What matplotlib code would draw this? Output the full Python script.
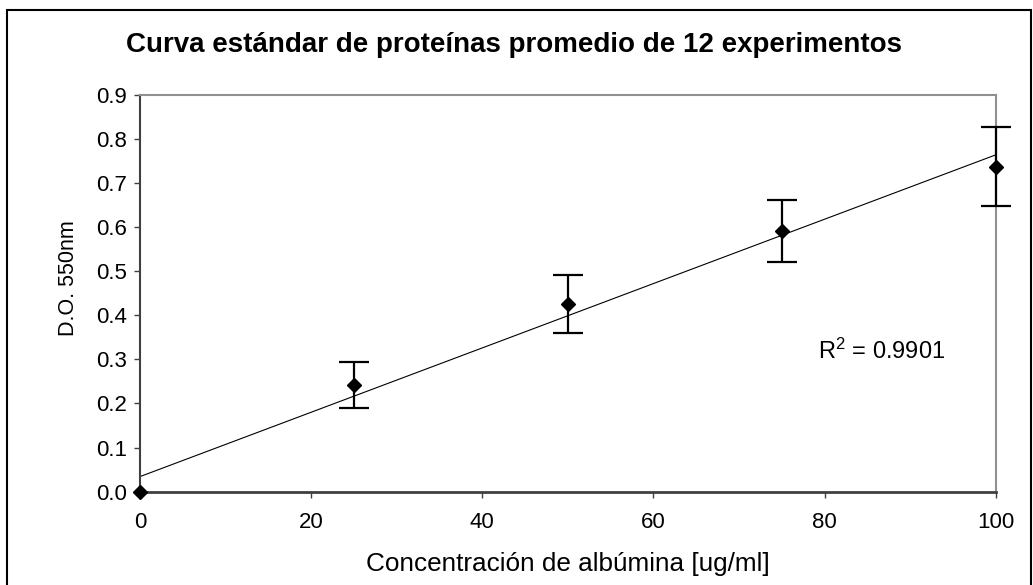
import matplotlib.pyplot as plt
from matplotlib.patches import Rectangle
import numpy as np

plt.rcParams['font.family'] = ['Liberation Sans', 'DejaVu Sans']
plt.rcParams['mathtext.fontset'] = 'custom'
plt.rcParams['mathtext.rm'] = 'Liberation Sans'
plt.rcParams['mathtext.it'] = 'Liberation Sans'

# datos
concentracion = [0, 25, 50, 75, 100]
do_550 = [0.0, 0.241, 0.426, 0.591, 0.737]
err_inf = [0.0, 0.051, 0.067, 0.071, 0.089]
err_sup = [0.0, 0.054, 0.065, 0.070, 0.089]
x_ticks = [0, 20, 40, 60, 80, 100]
y_ticks = [0.0, 0.1, 0.2, 0.3, 0.4, 0.5, 0.6, 0.7, 0.8, 0.9]
r2_text = r'R$^{2}$ = 0.9901'

fig = plt.figure(figsize=(10.33, 5.85), dpi=100)
ax = fig.add_axes([0.1355, 0.1595, 0.8285, 0.6785])

# línea de tendencia (ajuste lineal)
pend, orig = np.polyfit(concentracion, do_550, 1)
xf = np.array([0, 100])
ax.plot(xf, pend * xf + orig, color='black', lw=0.8, zorder=2)

# el punto en 0 no lleva barra de error
ax.errorbar(concentracion, do_550, yerr=[err_inf, err_sup], fmt='D', color='black',
            ms=7.5, elinewidth=1.6, capsize=11, capthick=1.6, zorder=3, clip_on=False,
            errorevery=(1, 1))

ax.set_xlim(0, 100)
ax.set_ylim(0, 0.9)
ax.set_xticks(x_ticks)
ax.set_yticks(y_ticks)
ax.set_yticklabels(['%.1f' % v for v in y_ticks])
ax.tick_params(axis='both', direction='out', length=4.5, width=1.0, labelsize=16, color='#404040')
ax.tick_params(axis='x', pad=10)
ax.tick_params(axis='y', pad=5)

ax.spines['left'].set_color('#404040')
ax.spines['bottom'].set_color('#404040')
ax.spines['left'].set_linewidth(1.5)
ax.spines['bottom'].set_linewidth(2.0)
ax.spines['top'].set_color('#909090')
ax.spines['right'].set_color('#909090')
ax.spines['top'].set_linewidth(1.5)
ax.spines['right'].set_linewidth(1.5)

ax.text(79.2, 0.318, r2_text, fontsize=17, va='center', ha='left')

fig.text(0.4976, 0.923, 'Curva estándar de proteínas promedio de 12 experimentos',
         fontsize=20, fontweight='bold', ha='center', va='center')
fig.text(0.550, 0.036, 'Concentración de albúmina [ug/ml]', fontsize=18.8, ha='center', va='center')
fig.text(0.066, 0.525, 'D.O. 550nm', fontsize=15.5, rotation=90, ha='center', va='center')

# marco del gráfico
fig.patches.append(Rectangle((7 / 1033, -0.05), 1024 / 1033, 1.05 - 10 / 585,
                             transform=fig.transFigure, fill=False, ec='black', lw=1.5))

fig.savefig('out.png', dpi=100)
plt.close('all')
